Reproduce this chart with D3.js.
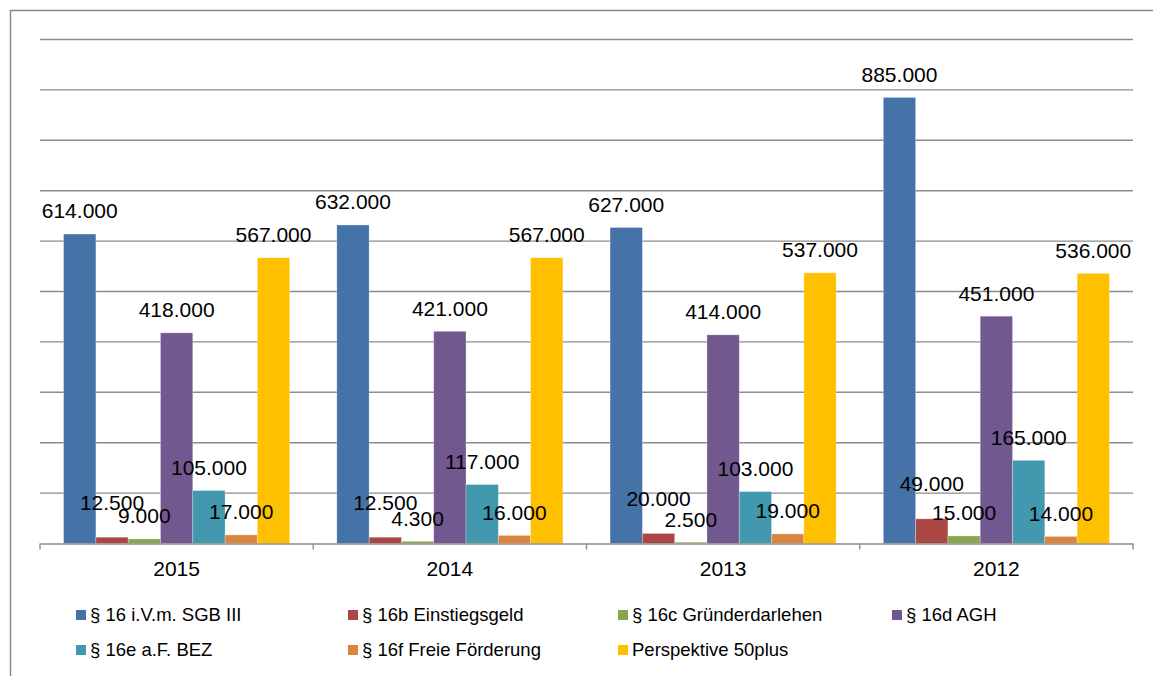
<!DOCTYPE html>
<html>
<head>
<meta charset="utf-8">
<script src="https://cdn.jsdelivr.net/npm/d3@7"></script>
<style>
  html, body { margin: 0; padding: 0; background: #fff; }
  svg { display: block; font-family: "Liberation Sans", Arial, sans-serif; }
</style>
</head>
<body>
<svg id="chart" width="1153" height="676"></svg>
<script>
const categories = ["2015", "2014", "2013", "2012"];
const seriesNames = [
  "§ 16 i.V.m. SGB III",
  "§ 16b Einstiegsgeld",
  "§ 16c Gründerdarlehen",
  "§ 16d AGH",
  "§ 16e a.F. BEZ",
  "§ 16f Freie Förderung",
  "Perspektive 50plus"
];
const sgb3 = [614000, 632000, 627000, 885000];
const einstiegsgeld = [12500, 12500, 20000, 49000];
const gruenderdarlehen = [9000, 4300, 2500, 15000];
const agh = [418000, 421000, 414000, 451000];
const bez = [105000, 117000, 103000, 165000];
const freieFoerderung = [17000, 16000, 19000, 14000];
const perspektive50 = [567000, 567000, 537000, 536000];
const yTicks = [0, 100000, 200000, 300000, 400000, 500000, 600000, 700000, 800000, 900000, 1000000];

const seriesValues = [sgb3, einstiegsgeld, gruenderdarlehen, agh, bez, freieFoerderung, perspektive50];
const colors = ["#4572A7", "#AA4643", "#89A54E", "#71588F", "#4198AF", "#DB843D", "#FFC000"];
const labelOffset = [23, 35, 23, 23, 23, 23, 23];

(function () {
const svg = d3.select("#chart");
const pLeft = 40, pRight = 1133, pTop = 39.5, pBottom = 543.5;

const locale = d3.formatLocale({ decimal: ",", thousands: ".", grouping: [3], currency: ["", "€"] });
const fmt = locale.format(",d");

// outer frame (left + top edges)
svg.append("path")
  .attr("d", "M10.5,676 L10.5,10.5 L1153,10.5")
  .attr("fill", "none").attr("stroke", "#898989").attr("stroke-width", 1.5);

const y = d3.scaleLinear().domain([0, 1000000]).range([pBottom, pTop]);
const x0 = d3.scaleBand().domain(categories).range([pLeft, pRight]).padding(0);
const x1 = d3.scaleBand().domain(seriesNames).range([0, x0.bandwidth()]).paddingInner(0).paddingOuter(0.73);

// gridlines
svg.append("g").selectAll("line").data(yTicks.slice(1)).join("line")
  .attr("x1", pLeft).attr("x2", pRight)
  .attr("y1", d => y(d)).attr("y2", d => y(d))
  .attr("stroke", "#8c8c8c").attr("stroke-width", 1.4);

// bars
const groups = svg.append("g").selectAll("g").data(categories).join("g")
  .attr("transform", d => `translate(${x0(d)},0)`);

groups.each(function(cat, ci) {
  const g = d3.select(this);
  seriesNames.forEach((s, si) => {
    const v = seriesValues[si][ci];
    g.append("rect")
      .attr("x", x1(s)).attr("width", x1.bandwidth())
      .attr("y", y(v)).attr("height", y(0) - y(v))
      .attr("fill", colors[si])
      .attr("stroke", "rgba(255,255,255,0.35)").attr("stroke-width", 0.8);
  });
});

// x axis
const xAxis = d3.axisBottom(x0).tickSize(0).tickPadding(18);
const axG = svg.append("g").attr("transform", `translate(0,${pBottom})`).call(xAxis);
axG.select(".domain").attr("stroke", "#8c8c8c").attr("stroke-width", 1.4);
axG.selectAll("text").attr("font-size", "21px").attr("fill", "#000").attr("font-family", "Liberation Sans, Arial, sans-serif");
const boundaries = categories.map(c => x0(c)).concat([pRight]);
axG.selectAll(".bound").data(boundaries).join("line").attr("class", "bound")
  .attr("x1", d => d).attr("x2", d => d).attr("y1", 0).attr("y2", 6)
  .attr("stroke", "#8c8c8c").attr("stroke-width", 1.4);

// data labels
const labG = svg.append("g");
categories.forEach((cat, ci) => {
  seriesNames.forEach((s, si) => {
    const v = seriesValues[si][ci];
    labG.append("text")
      .attr("x", x0(cat) + x1(s) + x1.bandwidth() / 2)
      .attr("y", y(v) - labelOffset[si])
      .attr("dy", "0.35em")
      .attr("text-anchor", "middle")
      .attr("font-size", "21px")
      .attr("fill", "#000")
      .text(fmt(v));
  });
});

// legend
const legendX = [76, 348, 618, 892];
const legendY = [615, 650];
const leg = svg.append("g");
seriesNames.forEach((s, i) => {
  const col = i % 4, row = Math.floor(i / 4);
  const gx = legendX[col], gy = legendY[row];
  leg.append("rect").attr("x", gx).attr("y", gy - 5).attr("width", 10).attr("height", 10).attr("fill", colors[i]);
  leg.append("text").attr("x", gx + 14).attr("y", gy).attr("dy", "0.35em")
    .attr("font-size", "18.5px").attr("fill", "#000").text(s);
});
})();
</script>
</body>
</html>
